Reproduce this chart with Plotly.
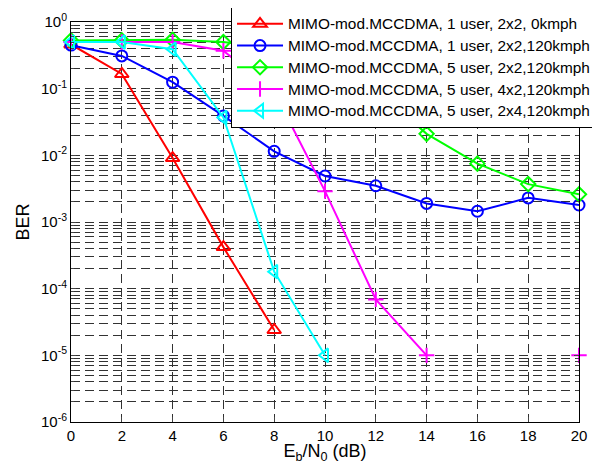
import plotly.graph_objects as go

ebn0 = [0, 2, 4, 6, 8, 10, 12, 14, 16, 18, 20]

names = [
    "MIMO-mod.MCCDMA, 1 user, 2x2, 0kmph",
    "MIMO-mod.MCCDMA, 1 user, 2x2,120kmph",
    "MIMO-mod.MCCDMA, 5 user, 2x2,120kmph",
    "MIMO-mod.MCCDMA, 5 user, 4x2,120kmph",
    "MIMO-mod.MCCDMA, 5 user, 2x4,120kmph",
]

ber_1u_2x2_0 = [0.46, 0.166, 0.0091, 4.2e-4, 2.4e-5, None, None, None, None, None, None]
ber_1u_2x2_120 = [0.45, 0.31, 0.125, 0.039, 0.0115, 0.0049, 0.0035, 0.0019, 0.00145, 0.0023, 0.0018]
ber_5u_2x2_120 = [0.53, 0.53, 0.54, 0.50, 0.40, 0.25, 0.10, 0.021, 0.0075, 0.0037, 0.0026]
ber_5u_4x2_120 = [0.50, 0.50, 0.50, 0.37, 0.09, 0.0029, 6.9e-5, 1.0e-5, None, None, 1.0e-5]
ber_5u_2x4_120 = [0.50, 0.50, 0.39, 0.037, 1.8e-4, 1.0e-5, None, None, None, None, None]

series = [ber_1u_2x2_0, ber_1u_2x2_120, ber_5u_2x2_120, ber_5u_4x2_120, ber_5u_2x4_120]
colors = ["#FF0000", "#0000FF", "#00FF00", "#FF00FF", "#00FFFF"]
symbols = ["triangle-up-open", "circle-open", "diamond-open", "cross-thin-open", "triangle-left-open"]
msizes = [12, 11, 11, 11, 12]

ytickvals = [1e-6, 1e-5, 1e-4, 1e-3, 1e-2, 1e-1, 1]
yticktext = ["10<sup>-6</sup>", "10<sup>-5</sup>", "10<sup>-4</sup>", "10<sup>-3</sup>",
             "10<sup>-2</sup>", "10<sup>-1</sup>", "10<sup>0</sup>"]

fig = go.Figure()
for i, (nm, ys) in enumerate(zip(names, series)):
    fig.add_trace(go.Scatter(
        x=ebn0, y=ys, name=f'<span style="font-size:15.4px">{nm}</span>',
        mode="lines+markers",
        line=dict(color=colors[i], width=2),
        marker=dict(symbol=symbols[i], size=msizes[i], color=colors[i],
                    line=dict(color=colors[i], width=2)),
        connectgaps=False, cliponaxis=False,
    ))

grid_col = "rgb(50,50,50)"
# page body has an 8px margin, so the figure is sized to fit the 600x464 window
fig.update_layout(
    width=592, height=456,
    margin=dict(l=63, r=21, t=14, b=42, autoexpand=False),
    paper_bgcolor="white", plot_bgcolor="white",
    font=dict(family="Liberation Sans, Arial, sans-serif", size=15, color="black"),
    showlegend=True,
    legend=dict(x=0.315, y=1.0375, xanchor="left", yanchor="top",
                bgcolor="white", bordercolor="black", borderwidth=1,
                font=dict(size=14.4), itemwidth=46),
    xaxis=dict(range=[0, 20], tickvals=ebn0, ticks="inside", ticklen=5,
               showline=True, linecolor="black", linewidth=1, mirror="ticks",
               showgrid=True, gridcolor=grid_col, griddash="9px,5px", gridwidth=1,
               zeroline=False, automargin=False,
               title=dict(text="E<sub>b</sub>/N<sub>0</sub> (dB)", standoff=5)),
    yaxis=dict(type="log", range=[-6, 0], tickvals=ytickvals, ticktext=yticktext,
               ticks="inside", ticklen=5,
               showline=True, linecolor="black", linewidth=1, mirror="ticks",
               showgrid=True, gridcolor=grid_col, griddash="9px,5px", gridwidth=1,
               zeroline=False, automargin=False,
               minor=dict(dtick="D1", showgrid=True, gridcolor=grid_col,
                          griddash="9px,5px", gridwidth=1, ticks="inside", ticklen=3),
               title=dict(text="BER", standoff=6)),
)

fig.write_html("out.html")
